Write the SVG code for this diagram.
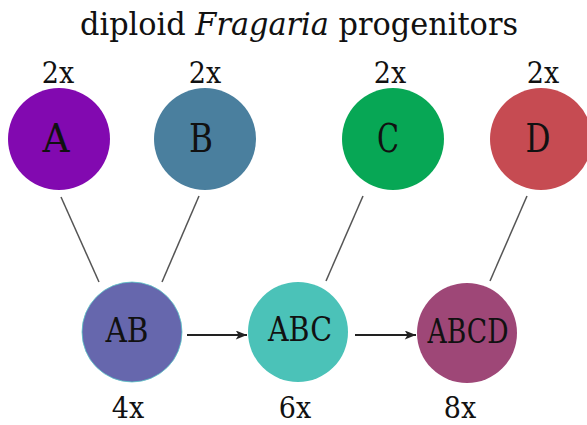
<svg xmlns="http://www.w3.org/2000/svg" width="587" height="425" viewBox="0 0 587 425">
<defs>
<style>
text{font-family:"DejaVu Serif Condensed","DejaVu Serif",serif;font-stretch:condensed;fill:#111;text-anchor:middle}
.t{font-size:31px;text-anchor:start}
.p{font-size:30px}
.n1{font-size:40px}
.n2{font-size:33px}
.e{stroke:#555;stroke-width:1.5;fill:none}
.a{stroke:#222;stroke-width:2;fill:none;marker-end:url(#ah)}
</style>
<marker id="ah" viewBox="0 0 10 8" refX="10" refY="4" markerWidth="6" markerHeight="4.5" orient="auto" markerUnits="strokeWidth">
<path d="M0,0 L10,4 L0,8 L2.5,4 Z" fill="#222"/>
</marker>
</defs>
<rect width="587" height="425" fill="#fff"/>
<text class="t" x="80" y="35" textLength="438" lengthAdjust="spacingAndGlyphs">diploid <tspan font-style="italic">Fragaria</tspan> progenitors</text>
<g id="connectors">
<line class="e" x1="61" y1="197" x2="99" y2="282"/>
<line class="e" x1="199" y1="196" x2="162" y2="282"/>
<line class="e" x1="363" y1="196" x2="326" y2="281"/>
<line class="e" x1="527" y1="196" x2="490" y2="281"/>
<line class="a" x1="187" y1="335" x2="247" y2="335"/>
<line class="a" x1="355" y1="335" x2="416" y2="335"/>
</g>
<g id="A"><text class="p" x="58" y="83">2x</text><circle cx="59" cy="139" r="51" fill="#8209b0"/><text class="n1" x="56" y="152" textLength="27" lengthAdjust="spacingAndGlyphs">A</text></g>
<g id="B"><text class="p" x="205" y="83">2x</text><circle cx="205" cy="139" r="51" fill="#4a7f9e"/><text class="n1" x="201" y="152" textLength="24" lengthAdjust="spacingAndGlyphs">B</text></g>
<g id="C"><text class="p" x="390" y="83">2x</text><circle cx="393" cy="139" r="51" fill="#07a755"/><text class="n1" x="388" y="152" textLength="22" lengthAdjust="spacingAndGlyphs">C</text></g>
<g id="D"><text class="p" x="543" y="83">2x</text><circle cx="541" cy="139" r="51" fill="#c64b52"/><text class="n1" x="538" y="152" textLength="25" lengthAdjust="spacingAndGlyphs">D</text></g>
<g id="AB"><circle cx="132" cy="332" r="50" fill="#6667ad" stroke="#5cc8c8" stroke-width="0.8"/><text class="n2" x="127" y="342" textLength="43" lengthAdjust="spacingAndGlyphs">AB</text><text class="p" x="128" y="418">4x</text></g>
<g id="ABC"><circle cx="298" cy="332" r="50" fill="#4bc2b8"/><text class="n2" x="300" y="341" textLength="64" lengthAdjust="spacingAndGlyphs">ABC</text><text class="p" x="295" y="418">6x</text></g>
<g id="ABCD"><circle cx="467" cy="333" r="50" fill="#9e4777"/><text class="n2" x="468" y="343" textLength="81" lengthAdjust="spacingAndGlyphs">ABCD</text><text class="p" x="460" y="418">8x</text></g>
</svg>
